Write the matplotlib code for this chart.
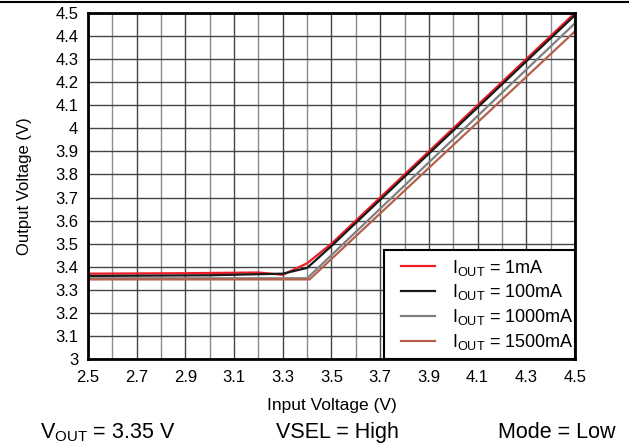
import numpy as np
import matplotlib.pyplot as plt
from matplotlib.patches import Rectangle
from matplotlib.ticker import MultipleLocator

plt.rcParams['font.family'] = ['Liberation Sans', 'DejaVu Sans']
plt.rcParams['mathtext.fontset'] = 'custom'
plt.rcParams['mathtext.rm'] = 'Liberation Sans'
plt.rcParams['mathtext.it'] = 'Liberation Sans'

# data
vin_1 = [2.5, 2.9, 3.2, 3.3, 3.4, 3.5, 4.5]
vout_1 = [3.37, 3.372, 3.375, 3.365, 3.415, 3.50, 4.50]

vin_100 = [2.5, 3.0, 3.3, 3.4, 3.5, 4.5]
vout_100 = [3.36, 3.363, 3.37, 3.395, 3.49, 4.49]

vin_1000 = [2.5, 3.0, 3.4, 4.5]
vout_1000 = [3.35, 3.35, 3.35, 4.455]

vin_1500 = [2.5, 3.0, 3.41, 4.5]
vout_1500 = [3.345, 3.345, 3.345, 4.42]

labels = ['1mA', '100mA', '1000mA', '1500mA']
colors = ['#ee1c25', '#1a1a1a', '#808080', '#b5614a']

fig = plt.figure(figsize=(6.29, 4.46), dpi=100)
ax = fig.add_axes([0.140, 0.195, 0.774, 0.776])

series = [(vin_1, vout_1), (vin_100, vout_100), (vin_1000, vout_1000), (vin_1500, vout_1500)]
for (x, y), lab, c in zip(series, labels, colors):
    ax.plot(x, y, color=c, lw=1.6, label=r'I$_{\mathrm{OUT}}$ = ' + lab)

ax.set_xlim(2.5, 4.5)
ax.set_ylim(3.0, 4.5)
ax.xaxis.set_minor_locator(MultipleLocator(0.1))
ax.set_xticks(np.arange(2.5, 4.51, 0.2))
ax.set_xticklabels(['%.1f' % v for v in np.arange(2.5, 4.51, 0.2)])
ax.set_yticks(np.arange(3.0, 4.51, 0.1))
ax.set_yticklabels(['%g' % round(v, 1) for v in np.arange(3.0, 4.51, 0.1)])
ax.grid(True, which='major', color='#444444', lw=1.0)
ax.grid(True, which='minor', axis='x', color='#8c8c8c', lw=1.0)
ax.tick_params(which='both', length=0, labelsize=12)
ax.tick_params(axis='x', pad=8)
ax.tick_params(axis='y', pad=7)
for s in ax.spines.values():
    s.set_linewidth(2)
    s.set_zorder(5)

ax.set_xlabel('Input Voltage (V)', fontsize=12.5, labelpad=9)
ax.set_ylabel('Output Voltage (V)', fontsize=12, labelpad=17)

# legend box (white, black border) with the entries on top
ax.add_patch(Rectangle((0.608, 0.0), 0.392, 0.315, transform=ax.transAxes,
                       facecolor='white', edgecolor='black', lw=1.5, zorder=4))
leg = ax.legend(loc='lower right', bbox_to_anchor=(1.008, 0.005), fontsize=13,
                frameon=False, handlelength=1.9, borderaxespad=0.0,
                labelspacing=0.26, borderpad=0.3, handletextpad=0.9)
leg.set_zorder(6)

fig.text(0.063, 0.018, r'V$_{\mathrm{OUT}}$ = 3.35 V', fontsize=15.5, ha='left')
fig.text(0.537, 0.018, 'VSEL = High', fontsize=15.5, ha='center')
fig.text(0.978, 0.018, 'Mode = Low', fontsize=15.5, ha='right')

fig.add_artist(plt.Line2D([0, 1], [0.995, 0.995], color='black', lw=1.5,
                          transform=fig.transFigure))

fig.savefig('out.png', dpi=100)
